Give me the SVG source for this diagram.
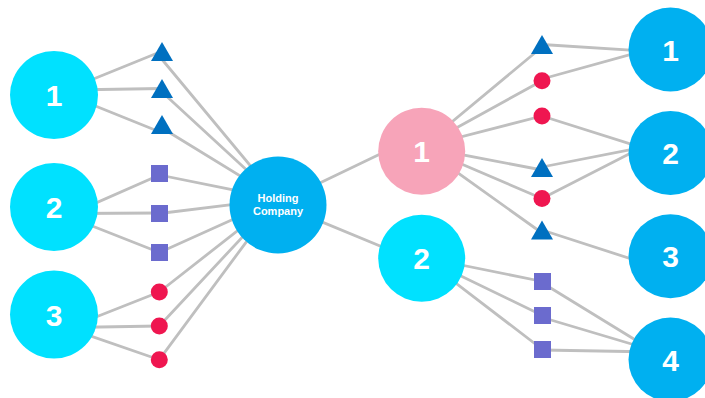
<svg xmlns="http://www.w3.org/2000/svg" width="705" height="398" viewBox="0 0 705 398">
<style>
.ln{stroke:#BFBFBF;stroke-width:2.8;fill:none;stroke-linecap:round}
.cy{fill:#00E1FF}
.bl{fill:#00B0F0}
.pk{fill:#F7A4B9}
.tri{fill:#0070C0}
.sq{fill:#6B6BCE}
.dot{fill:#EF1650}
.num{font-family:"Liberation Sans",Arial,sans-serif;font-weight:bold;font-size:30px;fill:#FFFFFF;text-anchor:middle}
.hc{font-family:"Liberation Sans",Arial,sans-serif;font-weight:bold;font-size:11px;fill:#FFFFFF;text-anchor:middle}
</style>
<defs>
<path id="triangle" d="M0,-10 L11,9 L-11,9 Z"/>
</defs>
<g id="connectors">
<line class="ln" x1="70" y1="88.5" x2="160" y2="52"/>
<line class="ln" x1="70" y1="90" x2="162" y2="88.5"/>
<line class="ln" x1="70" y1="95.7" x2="160" y2="132"/>
<line class="ln" x1="70" y1="214.4" x2="159.5" y2="175"/>
<line class="ln" x1="70" y1="213.5" x2="159.5" y2="213"/>
<line class="ln" x1="70" y1="217.2" x2="159.5" y2="252.5"/>
<line class="ln" x1="70" y1="327.2" x2="159.3" y2="292"/>
<line class="ln" x1="70" y1="327.5" x2="159.3" y2="326"/>
<line class="ln" x1="70" y1="328.9" x2="159.3" y2="359.7"/>
<line class="ln" x1="160" y1="57" x2="278" y2="199"/>
<line class="ln" x1="162" y1="92" x2="278" y2="199"/>
<line class="ln" x1="162" y1="128" x2="278" y2="199"/>
<line class="ln" x1="159.5" y1="175" x2="278" y2="199"/>
<line class="ln" x1="159.5" y1="213.5" x2="278" y2="199"/>
<line class="ln" x1="159.5" y1="252.5" x2="278" y2="199"/>
<line class="ln" x1="159.3" y1="292" x2="278" y2="199"/>
<line class="ln" x1="159.3" y1="326" x2="278" y2="199"/>
<line class="ln" x1="159.3" y1="359.7" x2="278" y2="199"/>
<line class="ln" x1="300" y1="192.6" x2="400" y2="144.6"/>
<line class="ln" x1="300" y1="212.9" x2="400" y2="254.3"/>
<line class="ln" x1="421.7" y1="147" x2="542" y2="47"/>
<line class="ln" x1="421.7" y1="147" x2="542" y2="80.7"/>
<line class="ln" x1="421.7" y1="147" x2="542" y2="116"/>
<line class="ln" x1="421.7" y1="147" x2="542" y2="170"/>
<line class="ln" x1="421.7" y1="147" x2="542" y2="198.5"/>
<line class="ln" x1="421.7" y1="147" x2="542" y2="233"/>
<line class="ln" x1="542" y1="44.5" x2="650" y2="51.4"/>
<line class="ln" x1="542" y1="79" x2="650" y2="49.1"/>
<line class="ln" x1="542" y1="116" x2="650" y2="150.2"/>
<line class="ln" x1="542" y1="167" x2="650" y2="145.8"/>
<line class="ln" x1="542" y1="198.5" x2="650" y2="143.2"/>
<line class="ln" x1="542" y1="230" x2="650" y2="265"/>
<line class="ln" x1="421.7" y1="257" x2="542.5" y2="281.5"/>
<line class="ln" x1="421.7" y1="257" x2="542.5" y2="315.5"/>
<line class="ln" x1="421.7" y1="257" x2="542.5" y2="349.5"/>
<line class="ln" x1="542.5" y1="283" x2="655" y2="352"/>
<line class="ln" x1="542.5" y1="317.5" x2="655" y2="351"/>
<line class="ln" x1="542.5" y1="350" x2="655" y2="352"/>
</g>
<g id="left-1"><circle class="cy" cx="54" cy="95" r="44"/><text class="num" x="54" y="106">1</text></g>
<g id="left-2"><circle class="cy" cx="54" cy="207" r="44"/><text class="num" x="54" y="218">2</text></g>
<g id="left-3"><circle class="cy" cx="54" cy="314.5" r="44"/><text class="num" x="54" y="325.5">3</text></g>
<g id="left-tri-1"><use href="#triangle" class="tri" x="162" y="52"/></g>
<g id="left-tri-2"><use href="#triangle" class="tri" x="162" y="89"/></g>
<g id="left-tri-3"><use href="#triangle" class="tri" x="162" y="125"/></g>
<g id="left-sq-1"><rect class="sq" x="151" y="165" width="17" height="17"/></g>
<g id="left-sq-2"><rect class="sq" x="151" y="205" width="17" height="17"/></g>
<g id="left-sq-3"><rect class="sq" x="151" y="244" width="17" height="17"/></g>
<g id="left-dot-1"><circle class="dot" cx="159.3" cy="292" r="8.5"/></g>
<g id="left-dot-2"><circle class="dot" cx="159.3" cy="326" r="8.5"/></g>
<g id="left-dot-3"><circle class="dot" cx="159.3" cy="359.7" r="8.5"/></g>
<g id="holding"><circle class="bl" cx="278" cy="205" r="48.5"/><text class="hc" x="278" y="202">Holding</text><text class="hc" x="278" y="215">Company</text></g>
<g id="mid-1"><circle class="pk" cx="421.7" cy="151.3" r="43.5"/><text class="num" x="421.7" y="162">1</text></g>
<g id="mid-2"><circle class="cy" cx="421.7" cy="258.3" r="43.5"/><text class="num" x="421.7" y="269">2</text></g>
<g id="right-tri-1"><use href="#triangle" class="tri" x="542" y="45"/></g>
<g id="right-dot-1"><circle class="dot" cx="542" cy="80.7" r="8.5"/></g>
<g id="right-dot-2"><circle class="dot" cx="542" cy="116" r="8.5"/></g>
<g id="right-tri-2"><use href="#triangle" class="tri" x="542" y="168"/></g>
<g id="right-dot-3"><circle class="dot" cx="542" cy="198.5" r="8.5"/></g>
<g id="right-tri-3"><use href="#triangle" class="tri" x="542" y="230.5"/></g>
<g id="right-sq-1"><rect class="sq" x="534" y="273" width="17" height="17"/></g>
<g id="right-sq-2"><rect class="sq" x="534" y="307" width="17" height="17"/></g>
<g id="right-sq-3"><rect class="sq" x="534" y="341" width="17" height="17"/></g>
<g id="right-1"><circle class="bl" cx="670.5" cy="49.5" r="42"/><text class="num" x="670.5" y="60.5">1</text></g>
<g id="right-2"><circle class="bl" cx="670.5" cy="153" r="42"/><text class="num" x="670.5" y="164">2</text></g>
<g id="right-3"><circle class="bl" cx="670.5" cy="256.3" r="42"/><text class="num" x="670.5" y="267.3">3</text></g>
<g id="right-4"><circle class="bl" cx="670.5" cy="359.5" r="42"/><text class="num" x="670.5" y="370.5">4</text></g>
</svg>
